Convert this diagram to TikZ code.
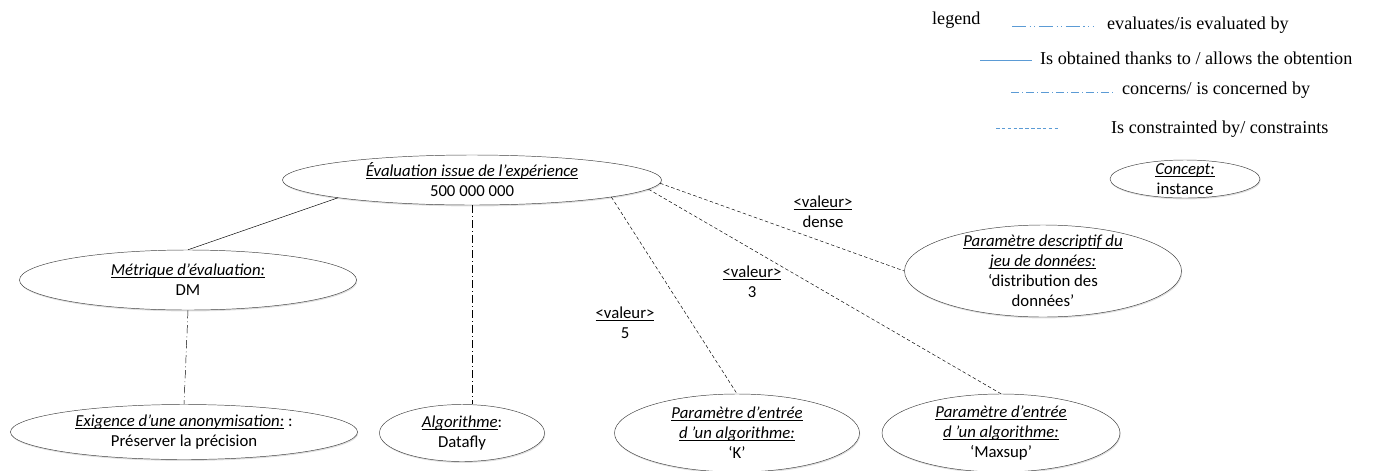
\documentclass[tikz,border=0pt]{standalone}
\usepackage{fontspec}
\setmainfont{Carlito}
\newfontfamily\legendfont{Liberation Serif}
\usetikzlibrary{shapes,shadows}

\definecolor{legendblue}{RGB}{91,155,213}
\newsavebox\titlebox
\newcommand{\uln}[1]{\sbox\titlebox{#1}\rlap{\rule[-1.8pt]{\wd\titlebox}{0.6pt}}\usebox\titlebox}
\newcommand{\ctitle}[1]{\uln{\textit{#1}}}

\begin{document}
\begin{tikzpicture}[x=0.03cm,y=-0.03cm,
    every node/.style={font=\fontsize{14.3}{17}\selectfont},
    concept/.style={ellipse,draw=black!75,thin,align=center,inner sep=-6pt,fill=white,
      drop shadow={shadow xshift=0.6pt,shadow yshift=-1.2pt,opacity=0.25}},
    valeur/.style={align=center},
    obtainedby/.style={thin},
    evaluates/.style={thin,dash pattern=on 12pt off 3pt on 1pt off 3pt on 1pt off 3pt},
    concerns/.style={thin,dash pattern=on 7pt off 2.5pt on 0.8pt off 2.5pt},
    constrainedby/.style={thin,dash pattern=on 3pt off 2pt},
    legendtext/.style={font=\legendfont\fontsize{15.5}{17}\selectfont,anchor=west},
    legendline/.style={draw=legendblue,line width=0.9pt}]

    \useasboundingbox (0,0) rectangle (1376,470);

    % concepts
    \node[concept,minimum width=11.37cm,minimum height=1.5cm] (eval) at (472,180)
      {\ctitle{Évaluation issue de l’expérience}\\500 000 000};
    \node[concept,minimum width=10.11cm,minimum height=1.8cm] (metrique) at (188,280)
      {\ctitle{Métrique d’évaluation:}\\DM};
    \node[concept,minimum width=10.41cm,minimum height=1.65cm] (exigence) at (184,432)
      {\ctitle{Exigence d’une anonymisation:} :\\Préserver la précision};
    \node[concept,minimum width=4.95cm,minimum height=1.71cm] (algo) at (462,433)
      {\ctitle{Algorithme}:\\Datafly};
    \node[concept,minimum width=7.35cm,minimum height=2.34cm] (paramK) at (737,433)
      {\ctitle{Paramètre d’entrée}\\\ctitle{d ’un algorithme:}\\‘K’};
    \node[concept,minimum width=7.14cm,minimum height=2.34cm] (paramMax) at (1001,433)
      {\ctitle{Paramètre d’entrée}\\\ctitle{d ’un algorithme:}\\‘Maxsup’};
    \node[concept,minimum width=8.31cm,minimum height=2.76cm] (descr) at (1043,271)
      {\ctitle{Paramètre descriptif du}\\\ctitle{jeu de données:}\\‘distribution des\\données’};

    % relations
    \draw[obtainedby] (eval.south west) -- (metrique.north);
    \draw[concerns] (metrique.south) -- (exigence.north);
    \draw[concerns] (eval.south) -- (eval.south |- algo.north);
    \draw[constrainedby] (eval.-7) -- (paramK.north);
    \draw[constrainedby] (eval.-3) -- (paramMax.north);
    \draw[constrainedby] (eval.-1) -- (descr.west);

    \node[valeur] (valDense) at (823,212) {\uln{<valeur>}\\dense};
    \node[valeur] (valThree) at (752,282) {\uln{<valeur>}\\3};
    \node[valeur] (valFive) at (625,323) {\uln{<valeur>}\\5};

    % legend
    \node[legendtext] (legend) at (928,20) {legend};
    \coordinate (evA) at (1012,26);   \coordinate (evB) at (1093,26);
    \coordinate (obA) at (980,60);    \coordinate (obB) at (1032,60);
    \coordinate (coA) at (1011,92);   \coordinate (coB) at (1113,92);
    \coordinate (csA) at (996,128);   \coordinate (csB) at (1058,128);
    \draw[legendline,evaluates] (evA) -- (evB);
    \draw[legendline,obtainedby] (obA) -- (obB);
    \draw[legendline,concerns] (coA) -- (coB);
    \draw[legendline,constrainedby] (csA) -- (csB);
    \node[legendtext] (evText) at (1103,25) {evaluates/is evaluated by};
    \node[legendtext] (obText) at (1036,58) {Is obtained thanks to / allows the obtention};
    \node[legendtext] (coText) at (1118,90) {concerns/ is concerned by};
    \node[legendtext] (csText) at (1107,129) {Is constrainted by/ constraints};
    \node[concept,minimum width=4.5cm,minimum height=1.14cm] (legConcept) at (1185,179)
      {\ctitle{Concept:}\\instance};
\end{tikzpicture}
\end{document}
